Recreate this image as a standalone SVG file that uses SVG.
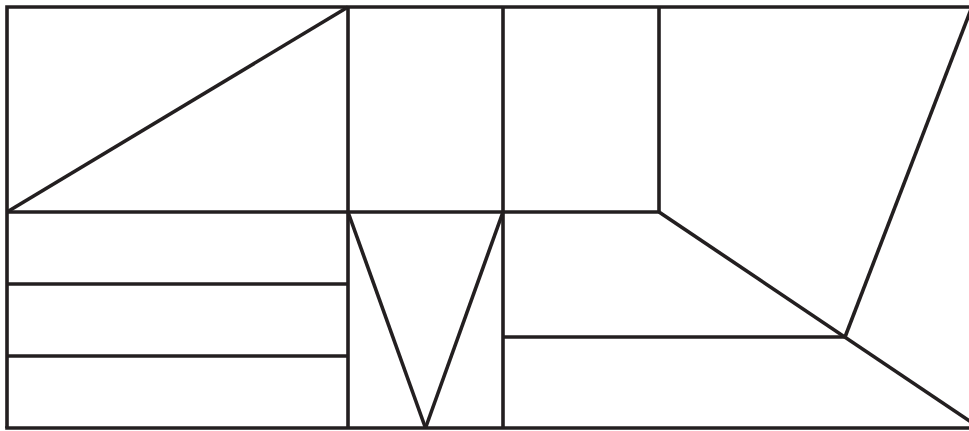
<svg xmlns="http://www.w3.org/2000/svg" width="969" height="431" viewBox="0 0 969 431">
<style>
.l{fill:none;stroke:#231f20;stroke-width:3.6;stroke-linecap:butt;stroke-linejoin:miter}
</style>
<rect width="969" height="431" fill="#ffffff"/>
<g id="lines" class="l">
<path d="M7,428 V7 H975"/>
<path d="M5.2,428 H975"/>
<path d="M348,7 V428"/>
<path d="M503,7 V428"/>
<path d="M659,7 V212"/>
<path d="M7,212 H659"/>
<path d="M7,212 L348,7"/>
<path d="M7,284 H348"/>
<path d="M7,356 H348"/>
<path d="M348,212 L425.5,428"/>
<path d="M425.5,428 L503,212"/>
<path d="M503,337 H845"/>
<path d="M659,212 L980,428"/>
<path d="M845,337 L973,4"/>
</g>
</svg>
